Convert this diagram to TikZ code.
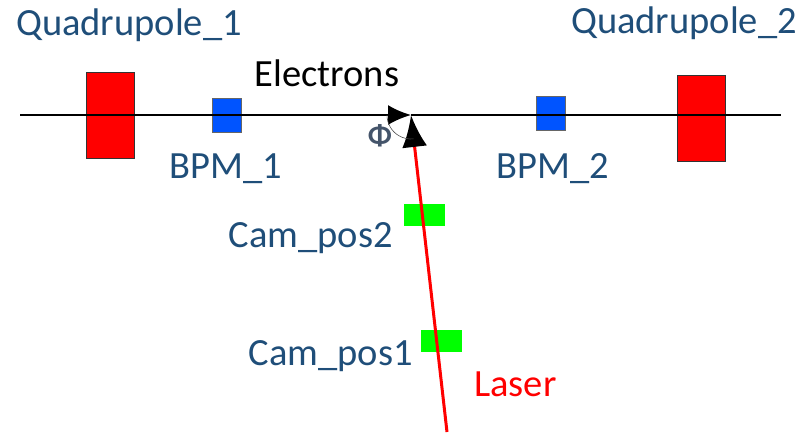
\documentclass[tikz,border=0pt]{standalone}
\usepackage{fontspec}
\setmainfont{Carlito}
\usepackage{xcolor}
\usetikzlibrary{arrows.meta}

\definecolor{labelblue}{RGB}{31,78,121}
\definecolor{bpmblue}{RGB}{0,84,255}
\definecolor{phigray}{RGB}{68,84,106}

\tikzset{
  quadbox/.style={draw=black!80,line width=0.8pt,fill=red,minimum width=48pt,minimum height=86pt,inner sep=0pt},
  bpmbox/.style={draw=black!60,line width=0.6pt,fill=bpmblue,minimum width=29pt,minimum height=34pt,inner sep=0pt},
  cambox/.style={fill=green,minimum width=41pt,minimum height=22pt,inner sep=0pt},
  lbl/.style={text=labelblue,font=\fontsize{38.5}{46}\selectfont,inner sep=0pt,anchor=base},
  beam/.style={line width=2pt,black},
  laser/.style={line width=3pt,red}
}

\begin{document}
\begin{tikzpicture}[x=1pt,y=1pt]
        \useasboundingbox (0,0) rectangle (806,-432);
        % magnets, monitors and cameras
        \node[quadbox] (quad1) at (110,-115) {};
        \node[quadbox] (quad2) at (701,-118.5) {};
        \node[bpmbox] (bpm1) at (226.5,-115) {};
        \node[bpmbox] (bpm2) at (550.5,-113) {};
        \node[cambox] (cam2) at (424.5,-215) {};
        \node[cambox] (cam1) at (441.5,-341) {};
        % beam line and laser
        \coordinate (beamin) at (20,-115);
        \coordinate (beamout) at (781,-115);
        \coordinate (hit) at (411,-115);
        \coordinate (laserin) at (447,-432);
        \draw[beam,-{Latex[length=23pt,width=20pt]}] (beamin) -- (hit);
        \draw[beam] (hit) -- (beamout);
        \draw[laser,-{Latex[length=32pt,width=25pt,color=black]}] (laserin) -- (hit);
        \draw[black!70,line width=0.6pt] (hit) ++(180:24) arc[start angle=180,end angle=276.3,radius=24];
        % labels
        \node[lbl] (quad1lbl) at (129,-35) {Quadrupole\_1};
        \node[lbl] (quad2lbl) at (684,-33) {Quadrupole\_2};
        \node[lbl,text=black] (elelbl) at (327,-86) {Electrons};
        \node[lbl] (bpm1lbl) at (226,-178) {BPM\_1};
        \node[lbl] (bpm2lbl) at (553,-178) {BPM\_2};
        \node[lbl,anchor=base east] (cam2lbl) at (393,-247) {Cam\_pos2};
        \node[lbl,anchor=base east] (cam1lbl) at (413,-365) {Cam\_pos1};
        \node[lbl,text=red,anchor=base west] (laserlbl) at (474,-396) {Laser};
        \node[text=phigray,font=\fontsize{30}{36}\selectfont\bfseries,inner sep=0pt] (philbl) at (380,-136) {Φ};
    \end{tikzpicture}
\end{document}
